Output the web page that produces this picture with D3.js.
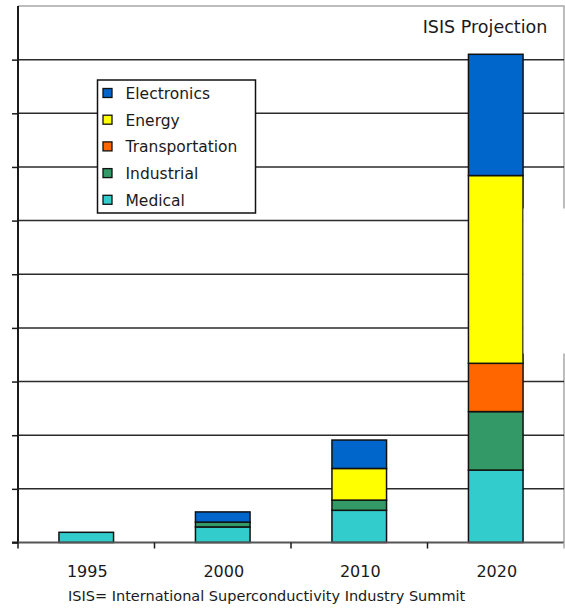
<!DOCTYPE html>
<html>
<head>
<meta charset="utf-8">
<script src="https://cdn.jsdelivr.net/npm/d3@7"></script>
<style>
  html, body { margin: 0; padding: 0; background: #fff; }
  svg { display: block; }
  text { font-family: "DejaVu Sans", Verdana, sans-serif; fill: #1a1a1a; }
</style>
</head>
<body>
<svg id="chart" width="565" height="608"></svg>
<script>
// Superconductivity market by application segment (stacked, bottom to top)
const years = ["1995", "2000", "2010", "2020"];
const segments = ["Medical", "Industrial", "Transportation", "Energy", "Electronics"];
const medical        = [0.19, 0.29, 0.60, 1.35];
const industrial     = [0.00, 0.09, 0.19, 1.09];
const transportation = [0.00, 0.00, 0.00, 0.90];
const energy         = [0.00, 0.00, 0.59, 3.50];
const electronics    = [0.00, 0.19, 0.53, 2.26];
const yTicks = [0, 1, 2, 3, 4, 5, 6, 7, 8, 9, 10];
const legendOrder = ["Electronics", "Energy", "Transportation", "Industrial", "Medical"];
const colors = {
  Medical: "#33CCCC",
  Industrial: "#339966",
  Transportation: "#FF6600",
  Energy: "#FFFF00",
  Electronics: "#0066CC"
};

const seriesValues = { Medical: medical, Industrial: industrial, Transportation: transportation, Energy: energy, Electronics: electronics };
const rows = years.map((yr, i) => {
  const r = { year: yr };
  segments.forEach(s => r[s] = seriesValues[s][i]);
  return r;
});
const stacked = d3.stack().keys(segments)(rows);

const svg = d3.select("#chart");
const plotLeft = 18, plotRight = 564, plotTop = 6, plotBottom = 542.5;

const x = d3.scaleBand().domain(years).range([plotLeft, plotRight]).padding(0);
const y = d3.scaleLinear().domain([0, 10]).range([plotBottom, plotTop]);

// plot frame (top and right edges)
svg.append("path")
  .attr("d", `M${plotLeft},${plotTop}H${plotRight}V${plotBottom}`)
  .attr("fill", "none").attr("stroke", "#a8a8a8").attr("stroke-width", 1.5);

// horizontal gridlines
svg.append("g").selectAll("line")
  .data(yTicks.filter(t => t > 0 && t < 10))
  .join("line")
  .attr("x1", plotLeft).attr("x2", plotRight)
  .attr("y1", d => y(d)).attr("y2", d => y(d))
  .attr("stroke", "#2b2b2b").attr("stroke-width", 1.5);

// y axis with unlabeled ticks
const yAxis = svg.append("g")
  .attr("transform", `translate(${plotLeft},0)`)
  .call(d3.axisLeft(y).tickValues(yTicks.filter(t => t < 10)).tickSize(6).tickFormat(""));
yAxis.select(".domain").attr("d", `M-6,${plotBottom}H0V${plotTop}`).attr("stroke", "#1a1a1a").attr("stroke-width", 2);
yAxis.selectAll(".tick line").attr("stroke", "#1a1a1a").attr("stroke-width", 1.5);

// stacked bars
const barW = x.bandwidth() * 0.4;
svg.append("g").selectAll("g")
  .data(stacked)
  .join("g")
  .attr("fill", d => colors[d.key])
  .selectAll("rect")
  .data(d => d.filter(p => p[1] - p[0] > 0))
  .join("rect")
  .attr("x", d => x(d.data.year) + (x.bandwidth() - barW) / 2)
  .attr("width", barW)
  .attr("y", d => y(d[1]))
  .attr("height", d => y(d[0]) - y(d[1]))
  .attr("stroke", "#111").attr("stroke-width", 1.5);

// x axis baseline with boundary ticks
const xBounds = years.map(d => x(d)).concat([plotRight]);
svg.append("line")
  .attr("x1", plotLeft).attr("x2", plotRight).attr("y1", plotBottom).attr("y2", plotBottom)
  .attr("stroke", "#555").attr("stroke-width", 2);
svg.append("g").selectAll("line")
  .data(xBounds)
  .join("line")
  .attr("x1", d => d).attr("x2", d => d)
  .attr("y1", plotBottom).attr("y2", plotBottom + 6)
  .attr("stroke", d => d === plotRight ? "#a8a8a8" : "#1a1a1a").attr("stroke-width", 1.5);

// category labels
svg.append("g").selectAll("text")
  .data(years)
  .join("text")
  .attr("x", d => x(d) + x.bandwidth() / 2 + 1)
  .attr("y", 577)
  .attr("text-anchor", "middle")
  .attr("font-size", 16)
  .text(d => d);

// cleared patch at the right edge beside the 2020 bar
svg.append("rect")
  .attr("x", 523.5).attr("y", 208.5).attr("width", 42).attr("height", 145)
  .attr("fill", "#fff");

// title note
svg.append("text")
  .attr("x", 485).attr("y", 33)
  .attr("text-anchor", "middle")
  .attr("font-size", 17.5)
  .text("ISIS Projection");

// legend
const lg = svg.append("g").attr("transform", "translate(97.5,80)");
lg.append("rect")
  .attr("width", 158).attr("height", 133)
  .attr("fill", "#fff").attr("stroke", "#111").attr("stroke-width", 1.5);
const item = lg.selectAll("g.item")
  .data(legendOrder)
  .join("g")
  .attr("class", "item")
  .attr("transform", (d, i) => `translate(0,${13 + i * 26.7})`);
item.append("rect")
  .attr("x", 5.5).attr("y", -4.5).attr("width", 9).attr("height", 9)
  .attr("fill", d => colors[d]).attr("stroke", "#111").attr("stroke-width", 1.3);
item.append("text")
  .attr("x", 28).attr("y", 6)
  .attr("font-size", 15.5)
  .text(d => d);

// footer
svg.append("text")
  .attr("x", 68).attr("y", 601)
  .attr("font-size", 14.5)
  .text("ISIS= International Superconductivity Industry Summit");
</script>
</body>
</html>
